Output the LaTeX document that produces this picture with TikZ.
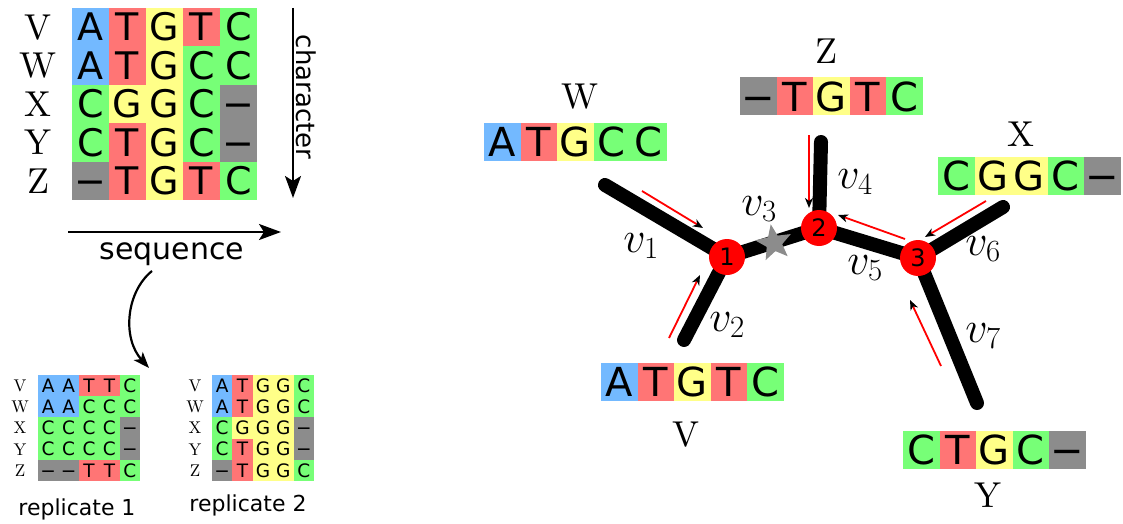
\documentclass[tikz,border=0pt]{standalone}
\usepackage{fix-cm}
\usepackage{fontspec}
\newfontfamily\basefont{DejaVu Sans}
\newfontfamily\labfont{lmroman10-regular}[Extension=.otf]
\usetikzlibrary{arrows.meta,shapes.geometric,backgrounds}
\definecolor{baseA}{RGB}{115,185,255}
\definecolor{baseT}{RGB}{255,117,117}
\definecolor{baseG}{RGB}{255,255,136}
\definecolor{baseC}{RGB}{119,255,119}
\definecolor{baseN}{RGB}{140,140,140}
\begin{document}
\begin{tikzpicture}[x=1pt,y=-1pt]
\useasboundingbox (0,0) rectangle (1123,524);
\tikzstyle{cell} = [inner sep=0pt,text height=27.5pt,text depth=0pt,minimum width=37pt,minimum height=38.4pt,font=\basefont\fontsize{38}{38}\selectfont]
\tikzstyle{smallcell} = [cell,text height=13.5pt,minimum width=20.4pt,minimum height=21.2pt,font=\basefont\fontsize{18.5}{18.5}\selectfont]
\tikzstyle{rightcell} = [cell,text height=29pt,minimum width=36.5pt,minimum height=38pt,font=\basefont\fontsize{40}{40}\selectfont]
\tikzstyle{bA} = [fill=baseA,node contents=A]
\tikzstyle{bT} = [fill=baseT,node contents=T]
\tikzstyle{bG} = [fill=baseG,node contents=G]
\tikzstyle{bC} = [fill=baseC,node contents=C]
\tikzstyle{bN} = [fill=baseN,node contents=−]
\tikzstyle{rowlab} = [inner sep=0pt,font=\labfont\fontsize{36}{36}\selectfont]
\tikzstyle{smallrowlab} = [inner sep=0pt,font=\labfont\fontsize{17}{17}\selectfont]
\tikzstyle{axis} = [line width=2.2pt,-{Stealth[length=22pt,width=16pt,inset=5pt]}]
\tikzstyle{branch} = [line width=14pt,line cap=round]
\tikzstyle{flow} = [red,line width=1.8pt,-{Stealth[black,length=10pt,width=8pt,inset=3pt]}]
\tikzstyle{inner} = [circle,fill=red,inner sep=0pt,minimum size=36pt,font=\basefont\fontsize{24}{24}\selectfont]
\tikzstyle{elab} = [inner sep=0pt,font=\fontsize{44}{44}\selectfont]
%%%%%%%%%%%%%%%%%%%%%%%%%%%%%
% alignment
%%%%%%%%%%%%%%%%%%%%%%%%%%%%%
\foreach \s/\seq [count=\r] in {V/{A,T,G,T,C},W/{A,T,G,C,C},X/{C,G,G,C,N},Y/{C,T,G,C,N},Z/{N,T,G,T,C}}{
  \node[rowlab] (m\s) at (38,{27.2+38.4*(\r-1)}) {\s};
  \foreach \b [count=\c] in \seq
    \node (m\s\c) at ({90.5+37*(\c-1)},{27.2+38.4*(\r-1)}) [cell,b\b];
}
\coordinate (chtop) at (293,8);
\coordinate (chbot) at (293,198);
\draw[axis] (chtop) -- (chbot);
\node (ch) [rotate=-90,inner sep=0pt,font=\basefont\fontsize{26}{26}\selectfont] at (306,97) {character};
\coordinate (sqleft) at (68,232);
\coordinate (sqright) at (281,232);
\draw[axis] (sqleft) -- (sqright);
\node (sq) [anchor=base,inner sep=0pt,font=\basefont\fontsize{30}{30}\selectfont] at (172,259) {sequence};
% bootstrap arrow
\coordinate (bs) at (152,271);
\coordinate (be) at (149,368);
\draw[line width=2.2pt,-{Stealth[length=16pt,width=12pt,inset=4pt]}] (bs) .. controls (126,292) and (122,338) .. (be);
%%%%%%%%%%%%%%%%%%%%%%%%%%%%%
% replicate 1
%%%%%%%%%%%%%%%%%%%%%%%%%%%%%
\foreach \s/\seq [count=\r] in {V/{A,A,T,T,C},W/{A,A,C,C,C},X/{C,C,C,C,N},Y/{C,C,C,C,N},Z/{N,N,T,T,C}}{
  \node[smallrowlab] (ra\s) at (20,{385.6+21.2*(\r-1)}) {\s};
  \foreach \b [count=\c] in \seq
    \node (ra\s\c) at ({48.2+20.4*(\c-1)},{385.6+21.2*(\r-1)}) [smallcell,b\b];
}
\node (r1) [inner sep=0pt,font=\basefont\fontsize{22}{22}\selectfont] at (77,509) {replicate 1};
%%%%%%%%%%%%%%%%%%%%%%%%%%%%%
% replicate 2
%%%%%%%%%%%%%%%%%%%%%%%%%%%%%
\foreach \s/\seq [count=\r] in {V/{A,T,G,G,C},W/{A,T,G,G,C},X/{C,G,G,G,N},Y/{C,T,G,G,N},Z/{N,T,G,G,C}}{
  \node[smallrowlab] (rb\s) at (195,{385.6+21.2*(\r-1)}) {\s};
  \foreach \b [count=\c] in \seq
    \node (rb\s\c) at ({222.2+20.4*(\c-1)},{385.6+21.2*(\r-1)}) [smallcell,b\b];
}
\node (r2) [inner sep=0pt,font=\basefont\fontsize{22}{22}\selectfont] at (248,505) {replicate 2};
%%%%%%%%%%%%%%%%%%%%%%%%%%%%%
% tree
%%%%%%%%%%%%%%%%%%%%%%%%%%%%%
\foreach \s/\x/\y/\seq in {W/484/142/{A,T,G,C,C},Z/740/96.5/{N,T,G,T,C},X/938/175.5/{C,G,G,C,N},V/601/381.5/{A,T,G,T,C},Y/903/449.5/{C,T,G,C,N}}
  \foreach \b [count=\c] in \seq
    \node (s\s\c) at ({\x+18.25+36.5*(\c-1)},\y) [rightcell,b\b];
\node[rowlab] (lW) at ([xshift=5pt,yshift=26pt]sW3.north) {W};
\node[rowlab] (lZ) at ([xshift=-5pt,yshift=26pt]sZ3.north) {Z};
\node[rowlab] (lX) at ([xshift=-8pt,yshift=22pt]sX3.north) {X};
\node[rowlab] (lV) at ([xshift=-6pt,yshift=-34pt]sV3.south) {V};
\node[rowlab] (lY) at ([xshift=-6pt,yshift=-26pt]sY3.south) {Y};
\coordinate (eW) at (605,185);
\coordinate (eV) at (684,340);
\coordinate (eZ) at (821,142);
\coordinate (eX) at (1003,207);
\coordinate (eY) at (977,403);
\node[inner] (n1) at (727,257) {1};
\node[inner] (n2) at (819,228) {2};
\node[inner] (n3) at (918,258) {3};
\node[star,star points=5,star point ratio=2.3,fill=baseN,inner sep=0pt,minimum size=38pt,rotate=10] (st) at (774,243) {};
\begin{scope}[on background layer]
\draw[branch] (eW) -- (n1.center);
\draw[branch] (eV) -- (n1.center);
\draw[branch] (n1.center) -- (n2.center);
\draw[branch] (eZ) -- (n2.center);
\draw[branch] (n2.center) -- (n3.center);
\draw[branch] (eX) -- (n3.center);
\draw[branch] (eY) -- (n3.center);
\end{scope}
% messages towards the root
\coordinate (fW) at (642,191); \coordinate (tW) at (703,228);
\coordinate (fV) at (669,338); \coordinate (tV) at (700,275);
\coordinate (fZ) at (809,135); \coordinate (tZ) at (809,208);
\coordinate (fX) at (986,201); \coordinate (tX) at (925,237);
\coordinate (f3) at (905,239); \coordinate (t3) at (838,215);
\coordinate (fY) at (941,366); \coordinate (tY) at (910,300);
\draw[flow] (fW) -- (tW);
\draw[flow] (fV) -- (tV);
\draw[flow] (fZ) -- (tZ);
\draw[flow] (fX) -- (tX);
\draw[flow] (f3) -- (t3);
\draw[flow] (fY) -- (tY);
\node[elab] (v1) at (641,246) {$v_1$};
\node[elab] (v2) at (727,325) {$v_2$};
\node[elab] (v3) at (759,209) {$v_3$};
\node[elab] (v4) at (855,182) {$v_4$};
\node[elab] (v5) at (865,268) {$v_5$};
\node[elab] (v6) at (983,249) {$v_6$};
\node[elab] (v7) at (983,336) {$v_7$};
\end{tikzpicture}
\end{document}
